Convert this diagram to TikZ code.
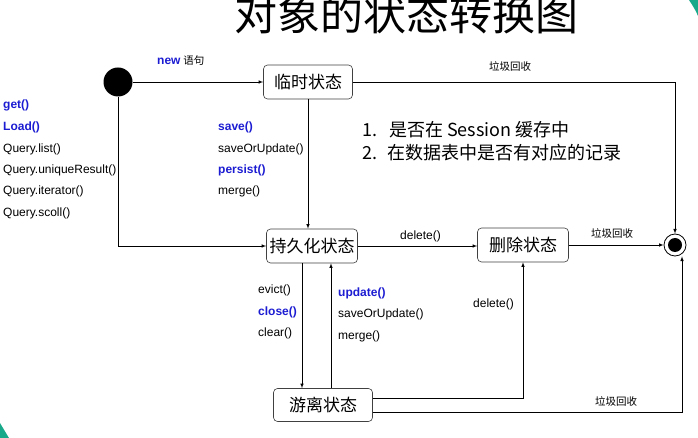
\documentclass[tikz,border=0pt]{standalone}
\usepackage{fontspec}
\setmainfont{Liberation Sans}
\newfontfamily\cjk{Noto Sans CJK SC}
\definecolor{callblue}{RGB}{28,28,210}
\definecolor{slideteal}{RGB}{24,168,138}
\tikzset{
  state/.style={draw=black!75,line width=0.6pt,rounded corners=4pt,fill=white,inner sep=1pt,minimum height=34pt,font=\cjk\fontsize{17}{17}\selectfont},
  call/.style={anchor=west,inner sep=0pt,font=\fontsize{12}{12}\selectfont},
  key/.style={call,text=callblue,font=\bfseries\fontsize{12}{12}\selectfont},
  gc/.style={inner sep=0pt,font=\cjk\fontsize{10.5}{10.5}\selectfont},
  >=latex
}
\begin{document}
\begin{tikzpicture}[x=1pt,y=-1pt]
        \useasboundingbox (0,0) rectangle (698,438);
        \fill[slideteal] (689,0) .. controls (693,6) and (696,11) .. (698,16) -- (698,0) -- cycle;
        \fill[slideteal] (0,423) .. controls (3,428) and (6,433) .. (9,438) -- (0,438) -- cycle;

        \node[inner sep=0pt,font=\cjk\fontsize{43}{43}\selectfont] (title) at (406,14) {对象的状态转换图};

        \node[fill,circle,minimum size=29pt,inner sep=0pt] (start) at (118,82) {};
        \node[draw,circle,line width=0.8pt,minimum size=22pt,inner sep=0pt] (end) at (675,245) {};
        \node[fill,circle,minimum size=14pt,inner sep=0pt] (core) at (end) {};

        \node[state,minimum width=89pt] (tmp) at (308,82) {临时状态};
        \node[state,minimum width=91pt] (pers) at (312,246) {持久化状态};
        \node[state,minimum width=91pt] (del) at (523,245) {删除状态};
        \node[state,minimum width=99pt,minimum height=33pt] (free) at (323,405) {游离状态};

        \node[anchor=west,inner sep=0pt] (new) at (157,61) {\textcolor{callblue}{\bfseries\fontsize{12}{12}\selectfont new} {\cjk\fontsize{10.5}{10.5}\selectfont 语句}};

        \node[key] (get) at (3,105) {get()};
        \node[key] (load) at (3,127) {Load()};
        \node[call] (list) at (3,149) {Query.list()};
        \node[call] (unique) at (3,170) {Query.uniqueResult()};
        \node[call] (iter) at (3,191) {Query.iterator()};
        \node[call] (scoll) at (3,213) {Query.scoll()};

        \node[key] (save) at (218,127) {save()};
        \node[call] (saveup) at (218,149) {saveOrUpdate()};
        \node[key] (persist) at (218,170) {persist()};
        \node[call] (merge) at (218,191) {merge()};

        \node[anchor=west,inner sep=0pt,font=\cjk\fontsize{18}{18}\selectfont] (q1) at (362,130) {1.\hspace{12pt}是否在 Session 缓存中};
        \node[anchor=west,inner sep=0pt,font=\cjk\fontsize{18}{18}\selectfont] (q2) at (362,153) {2.\hspace{10pt}在数据表中是否有对应的记录};

        \node[call] (evict) at (258,290) {evict()};
        \node[key] (close) at (258,312) {close()};
        \node[call] (clear) at (258,333) {clear()};

        \node[key] (update) at (338,293) {update()};
        \node[call] (saveup2) at (338,314) {saveOrUpdate()};
        \node[call] (merge2) at (338,336) {merge()};

        \node[call] (delete) at (400,236) {delete()};
        \node[call] (delete2) at (473,304) {delete()};

        \node[gc] (gc1) at (510,66) {垃圾回收};
        \node[gc] (gc2) at (612,233) {垃圾回收};
        \node[gc] (gc3) at (616,401) {垃圾回收};

        \draw [->,semithick] (start) -- (tmp) ;
        \draw [->,semithick] (tmp.east) -| (end.north) ;
        \draw [->,semithick] (start.south) |- (pers.west) ;
        \draw [->,semithick] (tmp.south) -- (tmp.south |- pers.north) ;
        \draw [->,semithick] (pers.east) -- (pers.east -| del.west) ;
        \draw [->,semithick] (del.east) -- (end.west) ;
        \draw [->,semithick] ([xshift=-10pt]pers.south) -- ([xshift=-10pt]pers.south |- free.north) ;
        \draw [->,semithick] ([xshift=8pt]free.north) -- ([xshift=8pt]free.north |- pers.south) ;
        \draw [->,semithick] ([yshift=7pt]free.east) -| (del.south) ;
        \draw [->,semithick] ([yshift=-7pt]free.east) -| ([xshift=7pt]end.south) ;
\end{tikzpicture}
\end{document}
